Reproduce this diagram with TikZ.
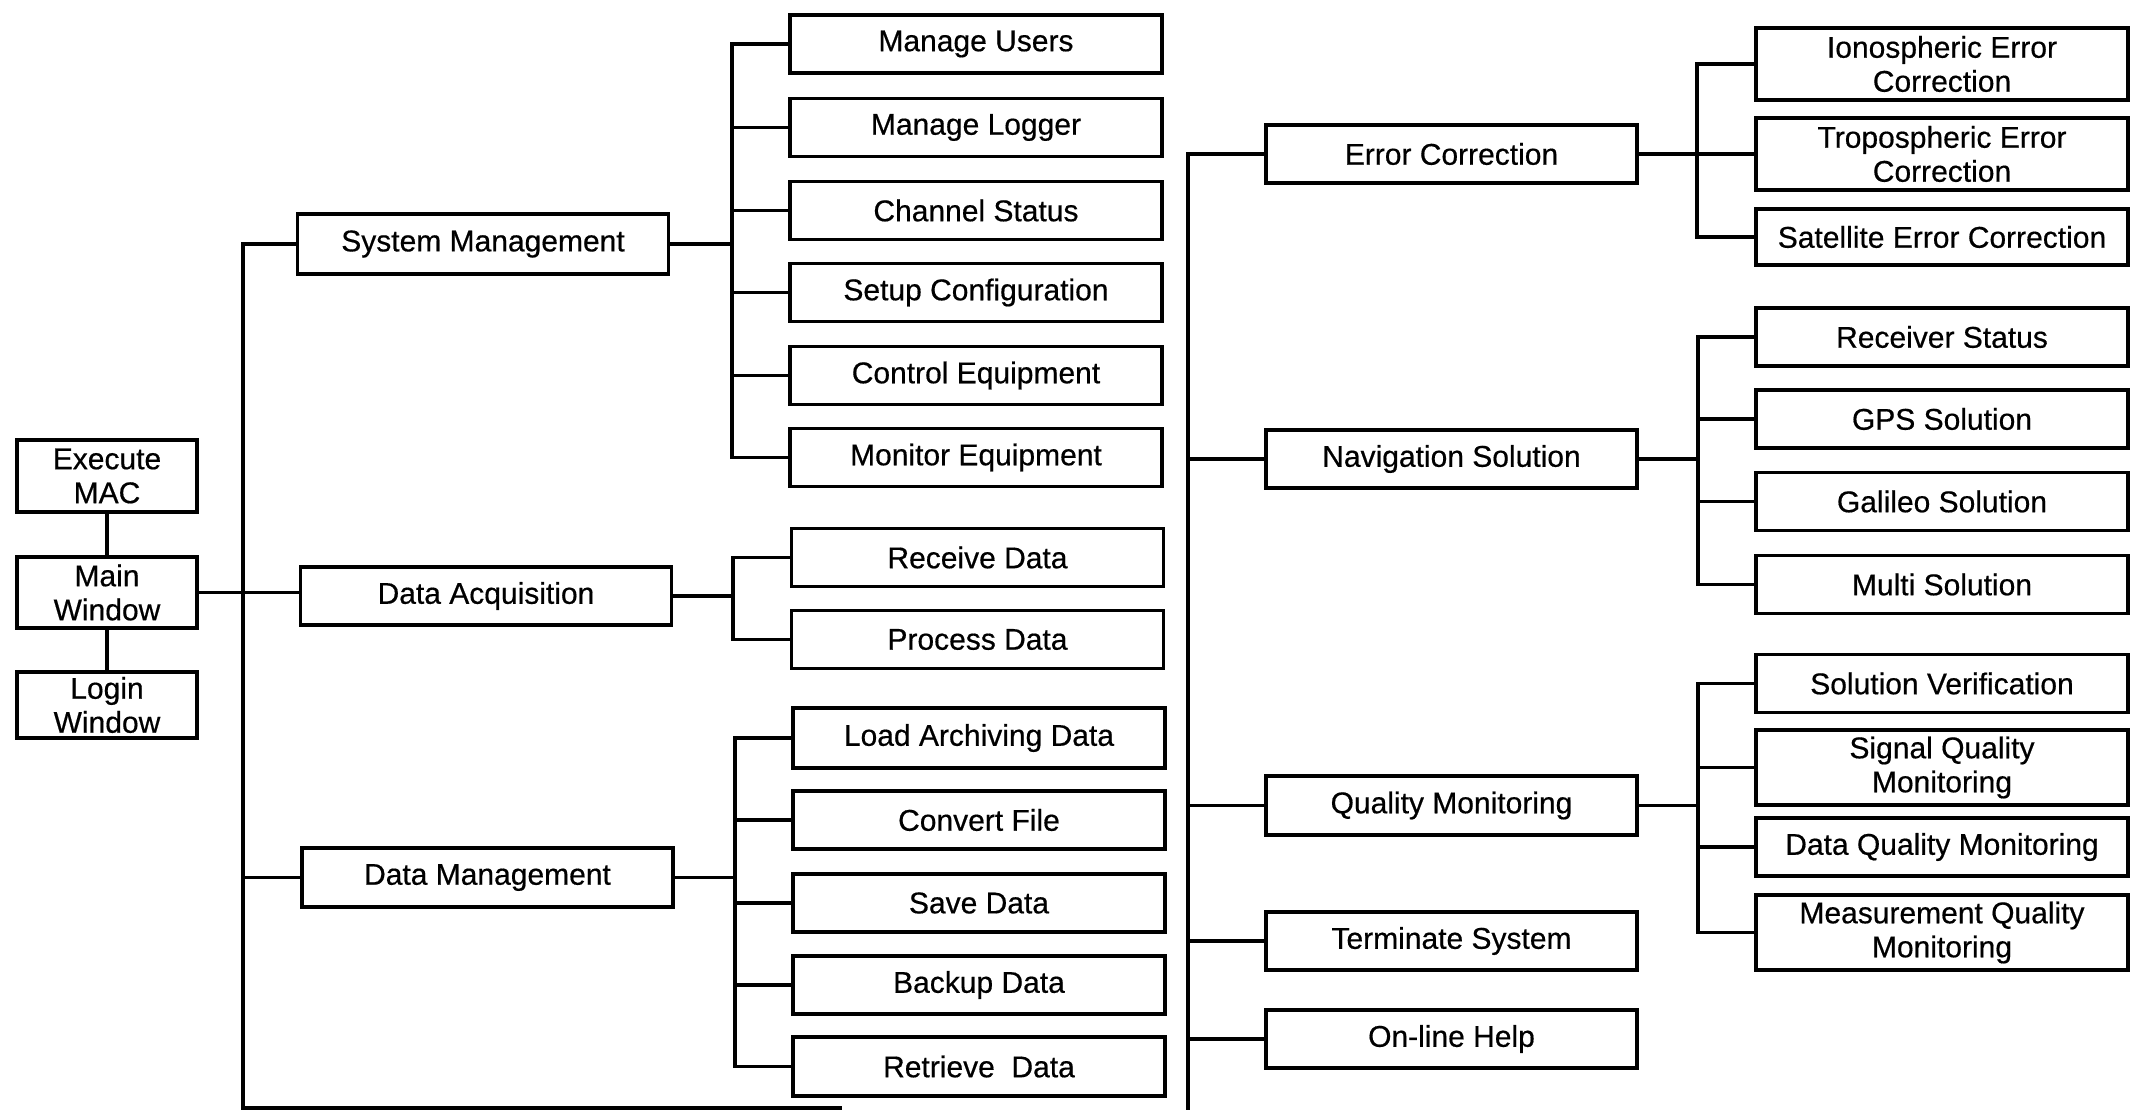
\documentclass[tikz,border=0pt]{standalone}
\usepackage{fontspec}
\setmainfont{Liberation Sans}
\newfontfamily\boxfont{Liberation Sans}[FakeBold=0.5]
\begin{document}
\begin{tikzpicture}[x=1pt,y=-1pt,
  box/.style={draw, line width=3.5pt, rectangle, inner sep=0pt, align=center,
    font=\boxfont\fontsize{30}{34}\selectfont},
  topbox/.style={box, minimum width=180, minimum height=70},
  midbox/.style={box, minimum width=371, minimum height=59},
  leafbox/.style={box, minimum width=372, minimum height=58},
  wire/.style={line width=3.5pt, line join=miter}]
\useasboundingbox (0,0) rectangle (2132,1110);

% entry windows
\node[topbox, minimum height=72] (exec)  at (107,476)   {Execute\\MAC};
\node[topbox, minimum height=71] (main)  at (107,592.5) {Main\\Window};
\node[topbox, minimum height=66] (login) at (107,705)   {Login\\Window};

% first level, left side
\node[midbox, minimum height=60] (sm) at (483,244)   {System Management};
\node[midbox, minimum height=58] (da) at (486,596)   {Data Acquisition};
\node[midbox] (dm) at (487.5,877.5) {Data Management};

% system management functions
\node[leafbox] (mu) at (976,44)    {Manage Users};
\node[leafbox] (ml) at (976,127.5) {Manage Logger};
\node[leafbox] (cs) at (976,210.5) {Channel Status};
\node[leafbox] (sc) at (976,292.5) {Setup Configuration};
\node[leafbox] (ce) at (976,375.5) {Control Equipment};
\node[leafbox] (me) at (976,457.5) {Monitor Equipment};

% data acquisition functions
\node[leafbox] (rd) at (977.5,557.5) {Receive Data};
\node[leafbox] (pd) at (977.5,639.5) {Process Data};

% data management functions
\node[leafbox, minimum height=60] (la) at (979,738)    {Load Archiving Data};
\node[leafbox] (cf) at (979,820)    {Convert File};
\node[leafbox] (sd) at (979,903)    {Save Data};
\node[leafbox] (bd) at (979,985)    {Backup Data};
\node[leafbox, minimum height=59] (re) at (979,1066.5) {Retrieve\ \ Data};

% first level, right side
\node[midbox, minimum height=58] (ec) at (1451.5,154)   {Error Correction};
\node[midbox, minimum height=58] (ns) at (1451.5,459)   {Navigation Solution};
\node[midbox] (qm) at (1451.5,805.5) {Quality Monitoring};
\node[midbox, minimum height=58] (ts) at (1451.5,941)   {Terminate System};
\node[midbox, minimum height=58] (oh) at (1451.5,1039)  {On-line Help};

% error correction functions
\node[leafbox, minimum height=72] (io) at (1942,64)  {Ionospheric Error\\Correction};
\node[leafbox, minimum height=72] (tr) at (1942,154) {Tropospheric Error\\Correction};
\node[leafbox, minimum height=56] (sa) at (1942,237) {Satellite Error Correction};

% navigation solution functions
\node[leafbox] (rs) at (1942,337)   {Receiver Status};
\node[leafbox] (gp) at (1942,419)   {GPS Solution};
\node[leafbox] (ga) at (1942,501.5) {Galileo Solution};
\node[leafbox] (ms) at (1942,584.5) {Multi Solution};

% quality monitoring functions
\node[leafbox] (sv) at (1942,683.5) {Solution Verification};
\node[leafbox, minimum height=75] (sq) at (1942,767.5) {Signal Quality\\Monitoring};
\node[leafbox] (dq) at (1942,847)   {Data Quality Monitoring};
\node[leafbox, minimum height=75] (mq) at (1942,932.5) {Measurement Quality\\Monitoring};

% bus positions
\coordinate (busL)  at (243,1108);
\coordinate (lineE) at (842,1108);
\coordinate (busS)  at (732,0);
\coordinate (busA)  at (733,0);
\coordinate (busD)  at (735,0);
\coordinate (busR)  at (1188,1110);
\coordinate (busE)  at (1697,0);
\coordinate (busN)  at (1698,0);
\coordinate (busQ)  at (1698,0);

% entry window links
\draw[wire] (exec) -- (main);
\draw[wire] (main) -- (login);
\draw[wire] (main.east) -- (main.east -| da.west);

% left bus
\draw[wire] (sm.west) -| (busL) -- (lineE);
\draw[wire] (dm.west) -- (dm.west -| busL);

% system management tree
\draw[wire] (sm.east) -- (sm.east -| busS);
\draw[wire] (mu.west) -| (busS |- me.west) -- (me.west);
\foreach \n in {ml,cs,sc,ce} \draw[wire] (\n.west) -- (\n.west -| busS);

% data acquisition tree
\draw[wire] (da.east) -- (da.east -| busA);
\draw[wire] (rd.west) -| (busA |- pd.west) -- (pd.west);

% data management tree
\draw[wire] (dm.east) -- (dm.east -| busD);
\draw[wire] (la.west) -| (busD |- re.west) -- (re.west);
\foreach \n in {cf,sd,bd} \draw[wire] (\n.west) -- (\n.west -| busD);

% right bus
\draw[wire] (ec.west) -| (busR);
\foreach \n in {ns,qm,ts,oh} \draw[wire] (\n.west) -- (\n.west -| busR);

% error correction tree
\draw[wire] (ec.east) -- (tr.west);
\draw[wire] (io.west) -| (busE |- sa.west) -- (sa.west);

% navigation solution tree
\draw[wire] (ns.east) -- (ns.east -| busN);
\draw[wire] (rs.west) -| (busN |- ms.west) -- (ms.west);
\foreach \n in {gp,ga} \draw[wire] (\n.west) -- (\n.west -| busN);

% quality monitoring tree
\draw[wire] (qm.east) -- (qm.east -| busQ);
\draw[wire] (sv.west) -| (busQ |- mq.west) -- (mq.west);
\foreach \n in {sq,dq} \draw[wire] (\n.west) -- (\n.west -| busQ);
\end{tikzpicture}
\end{document}
